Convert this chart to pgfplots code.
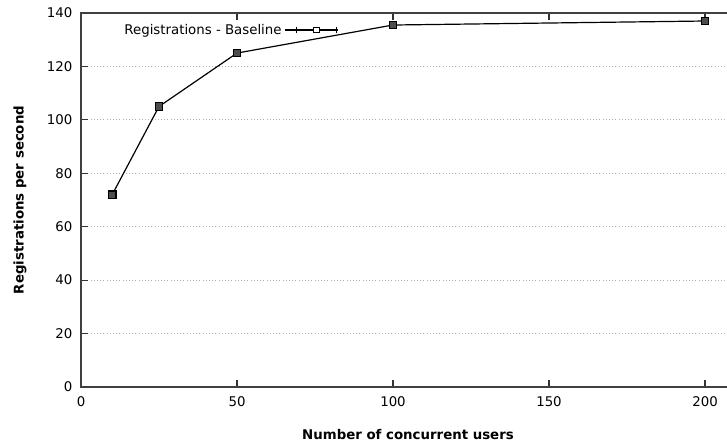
\documentclass[border=0pt]{standalone}
\usepackage{fontspec}
\setmainfont{DejaVu Sans}
\usepackage{pgfplots}
\pgfplotsset{compat=1.18}
\begin{document}
\begin{tikzpicture}[x=1pt,y=1pt]
\begin{axis}[
  at={(0,0)}, anchor=south west,
  scale only axis,
  width=490pt, height=280.5pt,
  xmin=0, xmax=209.4, ymin=0, ymax=140,
  xtick={0,50,100,150,200},
  ytick={0,20,40,60,80,100,120,140},
  xtick pos=both, ytick pos=left,
  tick align=inside,
  tick style={black!80, line width=0.8pt},
  major tick length=5pt,
  axis line style={black!75, line width=1.2pt},
  ymajorgrids,
  grid style={gray!60, dotted, line width=0.6pt},
  tick label style={font=\fontsize{10}{12}\selectfont},
  xticklabel style={yshift=-4pt},
  yticklabel style={xshift=-3pt},
  /pgf/number format/assume math mode=true,
  xlabel={\textbf{Number of concurrent users}},
  label style={font=\fontsize{10}{12}\selectfont},
  xlabel style={at={(rel axis cs:0.5005,0)}, anchor=center, yshift=-36pt},
  legend style={draw=none, fill=none, at={(rel axis cs:0.395,0.9545)}, anchor=east,
    font=\fontsize{10}{12}\selectfont, inner sep=0pt},
  legend plot pos=right,
  legend image code/.code={
    \path (0pt,0pt) -- (40pt,0pt);
    \draw[black, line width=0.7pt] (9pt,0pt) -- (38.5pt,0pt);
    \draw[black, line width=0.7pt] (9pt,-2.5pt) -- (9pt,2.5pt);
    \draw[black, line width=0.7pt] (38.5pt,-2.5pt) -- (38.5pt,2.5pt);
    \draw[black, line width=0.7pt, fill=white] (23.75pt-2.2pt,-2.2pt) rectangle (23.75pt+2.2pt,2.2pt);
  },
]
\addplot[black, line width=0.9pt, mark=square*, mark size=2.8pt,
  mark options={fill=black!70, draw=black},
  error bars/.cd, y dir=both, y explicit, error mark options={rotate=90, mark size=3pt, black}]
  coordinates {
  (10,72) +- (0,1)
  (25,105) +- (0,1)
  (50,125) +- (0,0.8)
  (100,135.5) +- (0,0.8)
  (200,137) +- (0,0.8)
};
\addlegendentry{Registrations - Baseline}
\end{axis}
\node[rotate=90, font=\fontsize{10}{12}\bfseries] at (-45.75pt,140.25pt) {Registrations per second};
\pgfresetboundingbox
\path[use as bounding box] (-60.75pt,-43.5pt) rectangle (484.5pt,290.25pt);
\end{tikzpicture}
\end{document}
